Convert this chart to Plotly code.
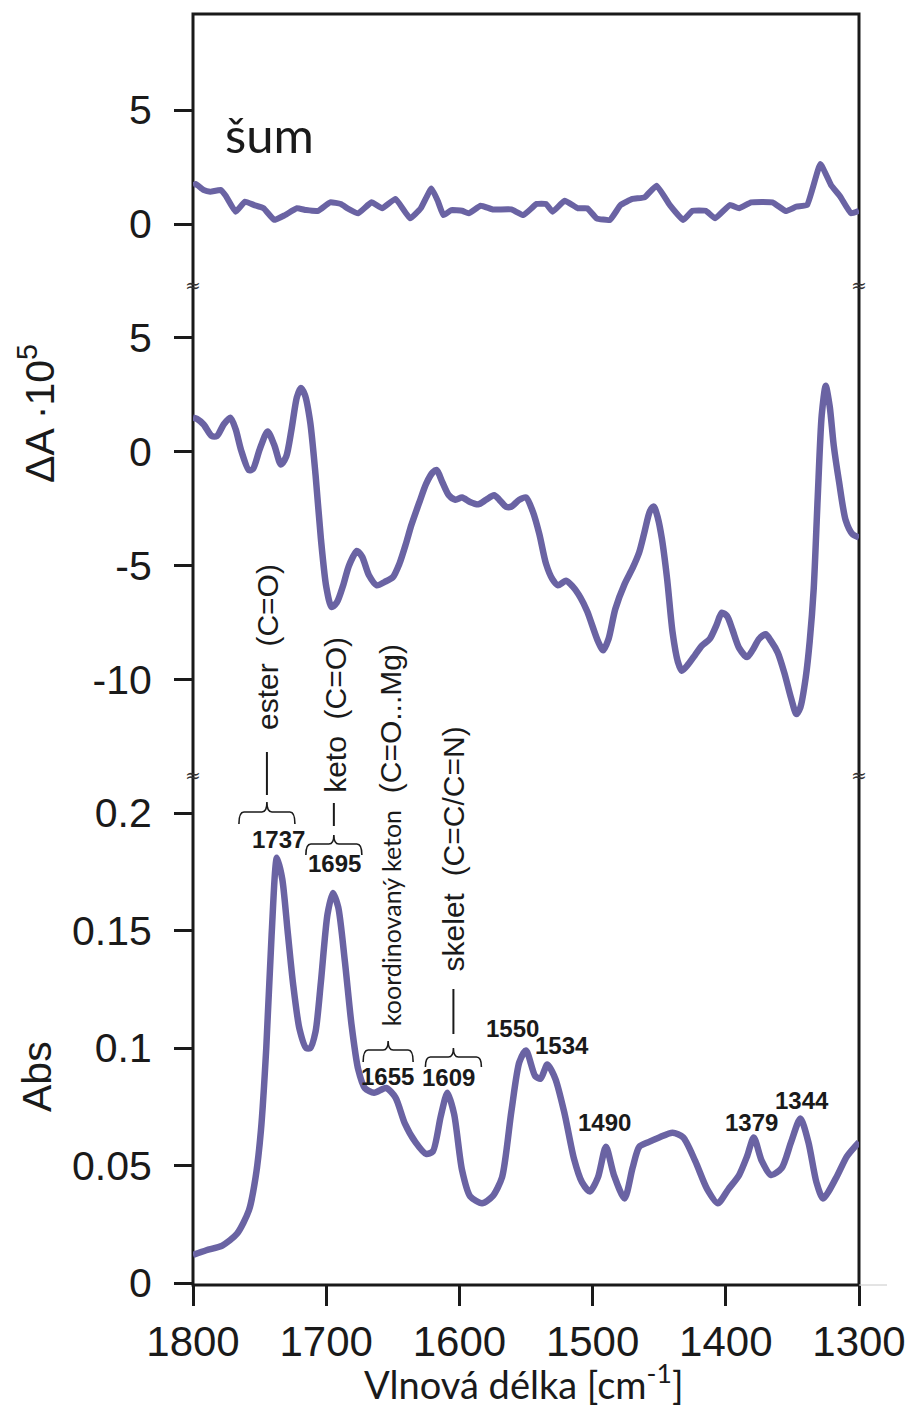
import plotly.graph_objects as go

# ---------------- spectral data ----------------
# absorbance spectrum (bottom panel)
WN_ABS = [1800, 1790, 1778, 1767, 1758, 1753, 1749, 1745, 1741, 1737, 1733, 1729, 1725,
          1720, 1715, 1712, 1708, 1704, 1699, 1695, 1691, 1686, 1681, 1676, 1671, 1664,
          1655, 1648, 1641, 1633, 1625, 1620, 1614, 1609, 1604, 1598, 1592, 1583, 1575,
          1568, 1561, 1555, 1550, 1543, 1539, 1534, 1528, 1521, 1514, 1508, 1502, 1496,
          1490, 1484, 1476, 1470, 1465, 1458, 1450, 1440, 1432, 1423, 1414, 1406, 1398,
          1390, 1384, 1379, 1373, 1366, 1358, 1351, 1344, 1338, 1332, 1327, 1317, 1309,
          1300]
ABS = [0.012, 0.014, 0.016, 0.021, 0.031, 0.045, 0.065, 0.100, 0.148, 0.181, 0.172, 0.150,
       0.128, 0.108, 0.100, 0.100, 0.107, 0.128, 0.157, 0.166, 0.160, 0.137, 0.110, 0.091,
       0.083, 0.081, 0.083, 0.079, 0.068, 0.060, 0.055, 0.056, 0.071, 0.081, 0.072, 0.048,
       0.037, 0.034, 0.037, 0.045, 0.073, 0.094, 0.099, 0.088, 0.087, 0.093, 0.087, 0.072,
       0.053, 0.043, 0.039, 0.045, 0.058, 0.046, 0.036, 0.049, 0.058, 0.060, 0.062, 0.064,
       0.062, 0.052, 0.040, 0.034, 0.040, 0.046, 0.054, 0.062, 0.052, 0.046, 0.049, 0.060,
       0.070, 0.060, 0.043, 0.036, 0.045, 0.054, 0.060]

# difference spectrum dA x 10^5 (middle panel)
WN_DA = [1800, 1797, 1792, 1786, 1782, 1777, 1772, 1768, 1764, 1758, 1755, 1750, 1744,
         1739, 1734, 1730, 1726, 1722, 1719, 1716, 1712, 1708, 1704, 1700, 1696, 1692,
         1687, 1683, 1677, 1673, 1668, 1662, 1656, 1650, 1645, 1640, 1636, 1630, 1625,
         1620, 1617, 1613, 1608, 1603, 1598, 1592, 1586, 1580, 1574, 1570, 1565, 1561,
         1555, 1550, 1545, 1540, 1535, 1530, 1526, 1520, 1515, 1509, 1504, 1496, 1492,
         1488, 1483, 1476, 1470, 1465, 1461, 1457, 1454, 1451, 1448, 1444, 1440, 1436,
         1433, 1428, 1423, 1418, 1412, 1407, 1403, 1399, 1395, 1390, 1384, 1380, 1375,
         1370, 1366, 1361, 1356, 1351, 1347, 1344, 1340, 1337, 1334, 1331, 1328, 1325,
         1322, 1319, 1315, 1310, 1305, 1300]
DA = [1.5, 1.45, 1.2, 0.7, 0.7, 1.2, 1.5, 1.0, 0.1, -0.8, -0.75, 0.1, 0.9, 0.3, -0.55,
      -0.2, 1.0, 2.4, 2.8, 2.5, 1.3, -1.0, -3.8, -5.9, -6.8, -6.6, -5.8, -5.0, -4.35,
      -4.6, -5.4, -5.85, -5.7, -5.5, -4.9, -4.0, -3.2, -2.2, -1.4, -0.9, -0.8, -1.3,
      -1.9, -2.1, -2.0, -2.2, -2.3, -2.1, -1.9, -2.1, -2.4, -2.4, -2.1, -2.0, -2.6,
      -3.6, -4.9, -5.6, -5.85, -5.65, -5.9, -6.4, -7.0, -8.3, -8.7, -8.2, -6.9, -5.8,
      -5.1, -4.4, -3.5, -2.6, -2.4, -2.9, -3.8, -5.6, -7.9, -9.2, -9.6, -9.3, -8.9,
      -8.5, -8.2, -7.6, -7.05, -7.2, -7.8, -8.6, -9.0, -8.7, -8.2, -8.0, -8.3, -8.8,
      -9.7, -10.8, -11.5, -11.2, -9.9, -8.3, -6.0, -2.0, 1.6, 2.9, 2.0, 0.3, -1.3,
      -3.0, -3.6, -3.75]

# noise trace x 10^5 (top panel)
WN_NOISE = [1800, 1798, 1792, 1787, 1779, 1775, 1768, 1761, 1754, 1747, 1739, 1731, 1722,
            1715, 1706, 1697, 1689, 1684, 1676, 1666, 1658, 1648, 1637, 1629, 1621, 1616,
            1612, 1606, 1598, 1593, 1584, 1575, 1561, 1552, 1542, 1535, 1530, 1521, 1511,
            1504, 1497, 1487, 1479, 1470, 1461, 1452, 1442, 1432, 1425, 1415, 1408, 1397,
            1390, 1381, 1365, 1355, 1347, 1339, 1329, 1321, 1314, 1306, 1300]
NOISE = [1.7, 1.75, 1.49, 1.42, 1.49, 1.2, 0.54, 0.98, 0.83, 0.69, 0.18, 0.39, 0.69,
         0.61, 0.58, 0.95, 0.88, 0.69, 0.47, 0.95, 0.69, 1.1, 0.25, 0.69, 1.56, 0.98,
         0.39, 0.61, 0.58, 0.47, 0.8, 0.64, 0.64, 0.39, 0.88, 0.88, 0.54, 1.02, 0.69,
         0.69, 0.25, 0.18, 0.83, 1.1, 1.17, 1.68, 0.83, 0.18, 0.58, 0.58, 0.25, 0.83,
         0.69, 0.95, 0.95, 0.57, 0.76, 0.83, 2.63, 1.71, 1.2, 0.47, 0.58]

# axis ticks
X_TICKS = [1800, 1700, 1600, 1500, 1400, 1300]
ABS_TICKS = [0, 0.05, 0.1, 0.15, 0.2]
ABS_TICKTEXT = ["0", "0.05", "0.1", "0.15", "0.2"]
DA_TICKS = [-10, -5, 0, 5]
DA_TICKTEXT = ["-10", "-5", "0", "5"]
NOISE_TICKS = [0, 5]
NOISE_TICKTEXT = ["0", "5"]

# assigned bands: (wavenumber, assignment)
BANDS = [(1737, "ester\u00a0\u00a0(C=O)"),
         (1695, "keto\u00a0\u00a0(C=O)"),
         (1655, "<span style='font-family:Lato;font-size:25px'>koordinovaný keton</span>"
                "\u00a0\u00a0(C=O...Mg)"),
         (1609, "skelet\u00a0\u00a0(C=C/C=N)")]
# further labelled peaks
PEAKS = [1550, 1534, 1490, 1379, 1344]

# ---------------- styling / geometry ----------------
W, H = 906, 1407
ML, MR, MT, MB = 193, 47, 14, 122
PW = W - ML - MR
PH = H - MT - MB
LINE_C = "#6a63a3"
INK = "#1a1a1a"
SANS = "Liberation Sans, Arial, sans-serif"
HUMAN = "Lato, Open Sans, sans-serif"
PX_PER_WN = PW / 500.0


def py(row):
    """paper y for a pixel row of the page"""
    return (MT + PH - row) / PH


def pxx(col):
    """paper x for a pixel column of the page"""
    return (col - ML) / PW


def wshift(wn, dpx):
    """wavenumber shifted by dpx pixels to the right"""
    return wn - dpx / PX_PER_WN


# panel boundaries (pixel rows of the axis breaks)
BREAK1, BREAK2 = 285, 775
dom_top = [py(BREAK1), 1.0]
dom_mid = [py(BREAK2), py(BREAK1)]
dom_bot = [0.0, py(BREAK2)]

fig = go.Figure()
fig.add_trace(go.Scatter(x=WN_ABS, y=ABS, xaxis="x", yaxis="y", mode="lines",
                         line=dict(color=LINE_C, width=6.5, shape="spline", smoothing=0.7),
                         showlegend=False, hoverinfo="skip"))
fig.add_trace(go.Scatter(x=WN_DA, y=DA, xaxis="x2", yaxis="y2", mode="lines",
                         line=dict(color=LINE_C, width=6.5, shape="spline", smoothing=0.7),
                         showlegend=False, hoverinfo="skip"))
fig.add_trace(go.Scatter(x=WN_NOISE, y=NOISE, xaxis="x3", yaxis="y3", mode="lines",
                         line=dict(color=LINE_C, width=6, shape="spline", smoothing=0.35),
                         showlegend=False, hoverinfo="skip"))

yax_common = dict(ticks="outside", ticklen=18, tickwidth=3, tickcolor=INK,
                  showline=False, showgrid=False, zeroline=False, automargin=False,
                  tickfont=dict(family=SANS, size=41, color=INK), ticklabelstandoff=14)

fig.update_layout(
    width=W, height=H,
    margin=dict(l=ML, r=MR, t=MT, b=MB, pad=0, autoexpand=False),
    paper_bgcolor="white", plot_bgcolor="white",
    xaxis=dict(domain=[0, 1], anchor="y", range=[1800, 1300], tickvals=X_TICKS,
               ticks="outside", ticklen=20, tickwidth=3, tickcolor=INK,
               showline=False, showgrid=False, zeroline=False, automargin=False,
               tickfont=dict(family=SANS, size=42, color=INK)),
    xaxis2=dict(matches="x", anchor="y2", showticklabels=False, ticks="",
                showgrid=False, zeroline=False, showline=False, automargin=False),
    xaxis3=dict(matches="x", anchor="y3", showticklabels=False, ticks="",
                showgrid=False, zeroline=False, showline=False, automargin=False),
    yaxis=dict(domain=dom_bot, anchor="x", range=[-0.0008, 0.2162],
               tickvals=ABS_TICKS, ticktext=ABS_TICKTEXT, **yax_common),
    yaxis2=dict(domain=dom_mid, anchor="x2", range=[-14.17, 7.32],
                tickvals=DA_TICKS, ticktext=DA_TICKTEXT, **yax_common),
    yaxis3=dict(domain=dom_top, anchor="x3", range=[-2.675, 9.21],
                tickvals=NOISE_TICKS, ticktext=NOISE_TICKTEXT, **yax_common),
)

shapes = [
    # frame round the three stacked panels
    dict(type="rect", xref="paper", yref="paper", x0=0, x1=1, y0=0, y1=1,
         line=dict(color=INK, width=3), layer="below"),
    dict(type="line", xref="paper", yref="paper", x0=1, x1=pxx(887), y0=0, y1=0,
         line=dict(color="#c8c8c8", width=1)),
]
annotations = []

# axis-break marks
for row in (BREAK1, BREAK2):
    for col in (ML, ML + PW):
        annotations.append(dict(text="≈", x=pxx(col), y=py(row), xref="paper", yref="paper",
                                showarrow=False, xanchor="center", yanchor="middle",
                                font=dict(family="DejaVu Serif", size=19, color="#333")))

# axis titles
annotations += [
    dict(text="ΔA ·10<sup>5</sup>", x=pxx(37), y=py(414), xref="paper", yref="paper",
         textangle=-90, showarrow=False, xanchor="center", yanchor="middle",
         font=dict(family=SANS, size=41, color=INK)),
    dict(text="Abs", x=pxx(37), y=py(1077), xref="paper", yref="paper",
         textangle=-90, showarrow=False, xanchor="center", yanchor="middle",
         font=dict(family=SANS, size=41, color=INK)),
    dict(text="Vlnová délka [cm<sup>-1</sup>]", x=pxx(524), y=py(1382), xref="paper",
         yref="paper", showarrow=False, xanchor="center", yanchor="middle",
         font=dict(family=HUMAN, size=38, color=INK)),
    dict(text="šum", x=pxx(223), y=py(134), xref="paper", yref="paper",
         showarrow=False, xanchor="left", yanchor="middle",
         font=dict(family=HUMAN, size=49, color=INK)),
]

# band assignments: rotated text, leader line, brace and wavenumber
band_layout = {
    1737: dict(tdx=-10, trow=647, lead=(752, 795), bdx=-10, bhw=28, brow=(802, 812, 824), ndx=2, nrow=839),
    1695: dict(tdx=2, trow=715, lead=(803, 826), bdx=1, bhw=28, brow=(835, 844, 855), ndx=2, nrow=864),
    1655: dict(tdx=4, trow=835, lead=None, bdx=2, bhw=25, brow=(1041, 1050, 1062), ndx=1, nrow=1076),
    1609: dict(tdx=6, trow=849, lead=(989, 1034), bdx=6, bhw=28, brow=(1048, 1057, 1067), ndx=1, nrow=1077),
}


def brace_path(xc, hw, rows):
    tip, mid, end = (py(r) for r in rows)
    xl, xr = wshift(xc, -hw), wshift(xc, hw)
    r = 5
    return (f"M {xl},{end} Q {xl},{mid} {wshift(xl, r)},{mid} "
            f"L {wshift(xc, -r)},{mid} Q {xc},{mid} {xc},{tip} "
            f"Q {xc},{mid} {wshift(xc, r)},{mid} "
            f"L {wshift(xr, -r)},{mid} Q {xr},{mid} {xr},{end}")


for wn, label in BANDS:
    g = band_layout[wn]
    annotations.append(dict(text=label, x=wshift(wn, g["tdx"]), y=py(g["trow"]),
                            xref="x", yref="paper", textangle=-90, showarrow=False,
                            xanchor="center", yanchor="middle",
                            font=dict(family=SANS, size=30, color=INK)))
    if g["lead"]:
        xl = wshift(wn, g["bdx"])
        shapes.append(dict(type="line", xref="x", yref="paper", x0=xl, x1=xl,
                           y0=py(g["lead"][0]), y1=py(g["lead"][1]),
                           line=dict(color=INK, width=2)))
    shapes.append(dict(type="path", xref="x", yref="paper",
                       path=brace_path(wshift(wn, g["bdx"]), g["bhw"], g["brow"]),
                       line=dict(color=INK, width=1.6)))
    annotations.append(dict(text=f"<b>{wn}</b>", x=wshift(wn, g["ndx"]), y=py(g["nrow"]),
                            xref="x", yref="paper", showarrow=False,
                            xanchor="center", yanchor="middle",
                            font=dict(family=SANS, size=24, color=INK)))

# peak labels (dx, centre row)
peak_layout = {1550: (-14, 1028), 1534: (15, 1045), 1490: (-1, 1122),
               1379: (-2, 1122), 1344: (2, 1100)}
for wn in PEAKS:
    dx, row = peak_layout[wn]
    annotations.append(dict(text=f"<b>{wn}</b>", x=wshift(wn, dx), y=py(row),
                            xref="x", yref="paper", showarrow=False,
                            xanchor="center", yanchor="middle",
                            font=dict(family=SANS, size=24, color=INK)))

fig.update_layout(shapes=shapes, annotations=annotations)
fig.write_html("out.html")
